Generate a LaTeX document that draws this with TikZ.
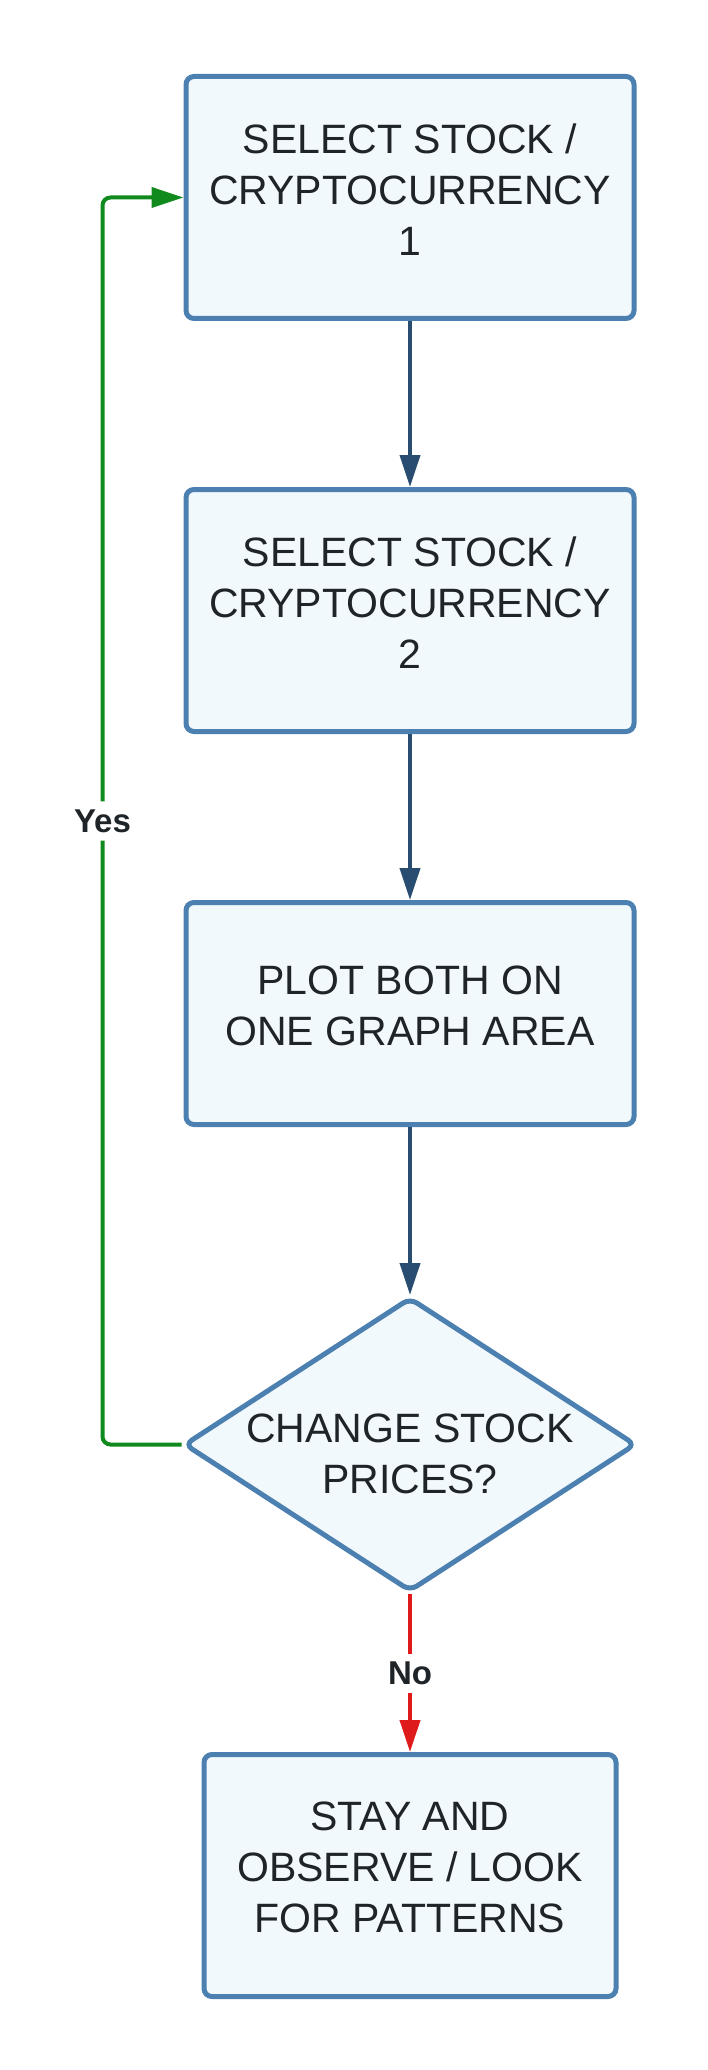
\documentclass[tikz,border=0pt]{standalone}
\usepackage{fontspec}
\setsansfont{Liberation Sans}
\usetikzlibrary{positioning,shapes.geometric,arrows.meta}

\definecolor{boxline}{RGB}{76,128,176}
\definecolor{boxfill}{RGB}{242,249,252}
\definecolor{flowline}{RGB}{40,77,112}
\definecolor{yesline}{RGB}{16,138,28}
\definecolor{noline}{RGB}{222,26,26}
\definecolor{textcol}{RGB}{30,36,40}

\begin{document}
\begin{tikzpicture}[>={Triangle[length=16pt,width=10pt]},node distance=83pt,
  process/.style={rectangle,rounded corners=4pt,draw=boxline,fill=boxfill,line width=2.5pt,minimum width=224pt,minimum height=121pt,text depth=8pt,align=center,text=textcol,font=\sffamily\fontsize{20.5pt}{25.5pt}\selectfont},
  decision/.style={diamond,rounded corners=4pt,draw=boxline,fill=boxfill,line width=2.5pt,aspect=1.51,minimum width=226pt,minimum height=147pt,inner xsep=-40pt,inner ysep=0pt,text height=48.5pt,text depth=0pt,align=center,text=textcol,font=\sffamily\fontsize{20.5pt}{25.5pt}\selectfont},
  flow/.style={->,line width=2pt,draw=flowline},
  yes path/.style={->,line width=2pt,draw=yesline,rounded corners=4pt},
  no path/.style={->,line width=2pt,draw=noline},
  answer/.style={fill=white,text=textcol,font=\sffamily\bfseries\fontsize{16.5pt}{19pt}\selectfont,inner sep=4pt}]

            \useasboundingbox (0,0) rectangle (353.5pt,-1035pt);

            \node[process] (sel1) at (205pt,-98.75pt) {SELECT STOCK /\\CRYPTOCURRENCY\\1};
            \node[process] (sel2) [below=83pt of sel1] {SELECT STOCK /\\CRYPTOCURRENCY\\2};
            \node[process, minimum height=111pt] (plot) [below=83pt of sel2] {PLOT BOTH ON\\ONE GRAPH AREA};
            \node[decision] (change) [below=84pt of plot] {CHANGE STOCK\\PRICES?};
            \node[process, minimum width=206pt] (stay) [below=79pt of change] {STAY AND\\OBSERVE / LOOK\\FOR PATTERNS};

            \draw[flow] (sel1) to (sel2);
            \draw[flow] (sel2) to (plot);
            \draw[flow] (plot) to (change);

            \draw[yes path] (change.west) -- ++(-39.5pt,0) |- node[answer, pos=0.25] {Yes} (sel1.west);
            \draw[no path] (change) -- node[answer] {No} (stay);
        \end{tikzpicture}
\end{document}
